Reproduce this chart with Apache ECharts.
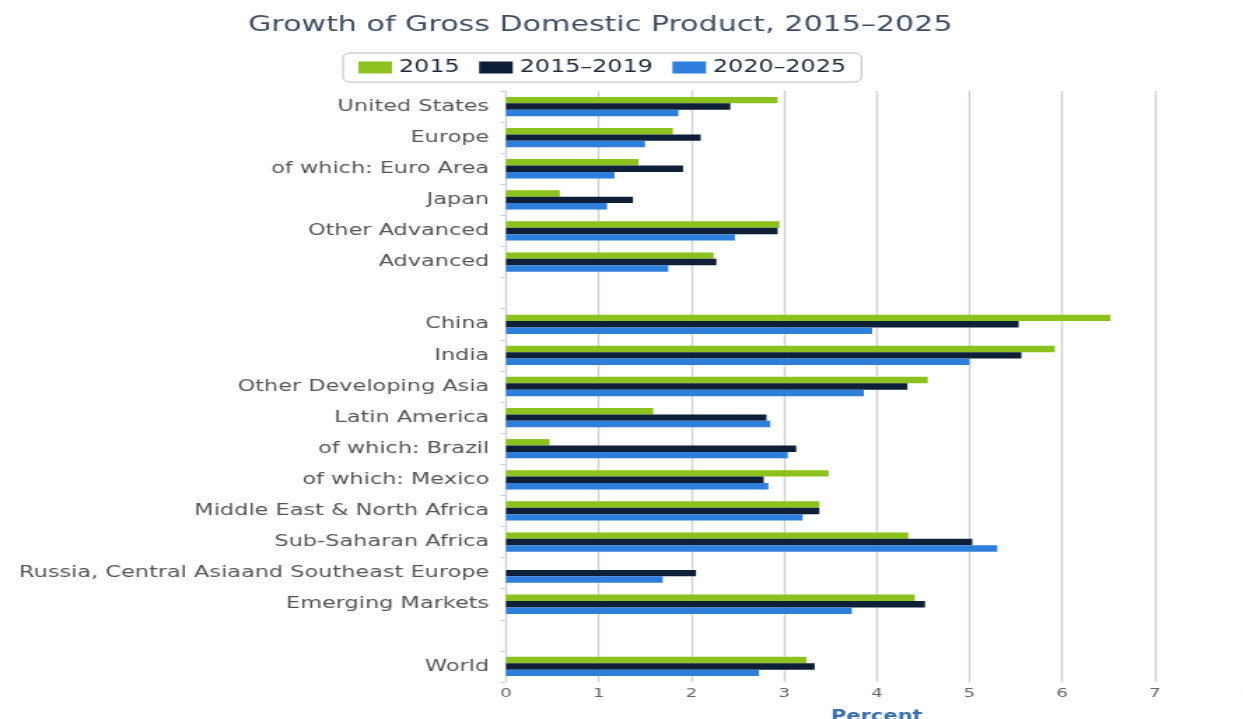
<!DOCTYPE html>
<html><head><meta charset="utf-8">
<script src="https://cdn.jsdelivr.net/npm/echarts@6/dist/echarts.min.js"></script>
<style>
html,body{margin:0;padding:0;background:#fff;overflow:hidden;width:1243px;height:719px}
#c{width:900px;height:719px;transform:scaleX(1.4);transform-origin:0 0}
</style>
</head><body><div id="c"></div>
<script>
var categories = ["United States","Europe","of which: Euro Area","Japan","Other Advanced","Advanced","","China","India","Other Developing Asia","Latin America","of which: Brazil","of which: Mexico","Middle East & North Africa","Sub-Saharan Africa","Russia, Central Asiaand Southeast Europe","Emerging Markets"," ","World"];
var seriesNames = ["2015","2015\u20132019","2020\u20132025"];
var v2015 = [2.93,1.80,1.43,0.58,2.95,2.24,null,6.52,5.92,4.55,1.59,0.47,3.48,3.38,4.34,null,4.41,null,3.24];
var v2015_2019 = [2.42,2.10,1.91,1.37,2.93,2.27,null,5.53,5.56,4.33,2.81,3.13,2.78,3.38,5.03,2.05,4.52,null,3.33];
var v2020_2025 = [1.86,1.50,1.17,1.09,2.47,1.75,null,3.95,5.00,3.86,2.85,3.04,2.83,3.20,5.30,1.69,3.73,null,2.73];
var xTicks = [0,1,2,3,4,5,6,7,8];

var colors = ["#8cc21e","#0e1f38","#2e7fdc"];
var chart = echarts.init(document.getElementById('c'));
var font = "DejaVu Sans";
var S = 1.4;
chart.setOption({
  animation:false,
  color: colors,
  title:{text:"Growth of Gross Domestic Product, 2015\u20132025",left:241/S,top:9,
    textStyle:{fontFamily:font,fontSize:21.5,fontWeight:'normal',color:'#3e4f64'}},
  legend:{data:seriesNames,top:53,left:343/S,
    itemWidth:24,itemHeight:12,itemGap:14,padding:[6,11,6,11],
    borderColor:'#bbbbbb',borderWidth:1,borderRadius:5,icon:'rect',
    textStyle:{fontFamily:font,fontSize:17,color:'#1e2a3a'}},
  grid:{left:506/S,right:900-1247.6/S,top:91,bottom:37,containLabel:false,outerBoundsMode:'none'},
  xAxis:{type:'value',min:xTicks[0],max:xTicks[xTicks.length-1],interval:1,
    name:'Percent',nameLocation:'middle',nameGap:28,
    nameTextStyle:{fontFamily:font,fontSize:15,fontWeight:'bold',color:'#3a6fae'},
    axisLine:{show:false},axisTick:{show:false},
    axisLabel:{fontFamily:font,fontSize:13,color:'#666',margin:5},
    splitLine:{lineStyle:{color:'#d0d0d0',width:1.4}}},
  yAxis:{type:'category',data:categories,inverse:true,
    axisLine:{lineStyle:{color:'#c6d4e6',width:1}},
    axisTick:{show:true,length:4,lineStyle:{color:'#c6d4e6'}},
    axisLabel:{fontFamily:font,fontSize:16,color:'#555',margin:12,interval:0}},
  series:[
    {name:seriesNames[0],type:'bar',data:v2015,barGap:'0%',barCategoryGap:'38%'},
    {name:seriesNames[1],type:'bar',data:v2015_2019,barGap:'0%',barCategoryGap:'38%'},
    {name:seriesNames[2],type:'bar',data:v2020_2025,barGap:'0%',barCategoryGap:'38%'}
  ]
});
</script></body></html>
